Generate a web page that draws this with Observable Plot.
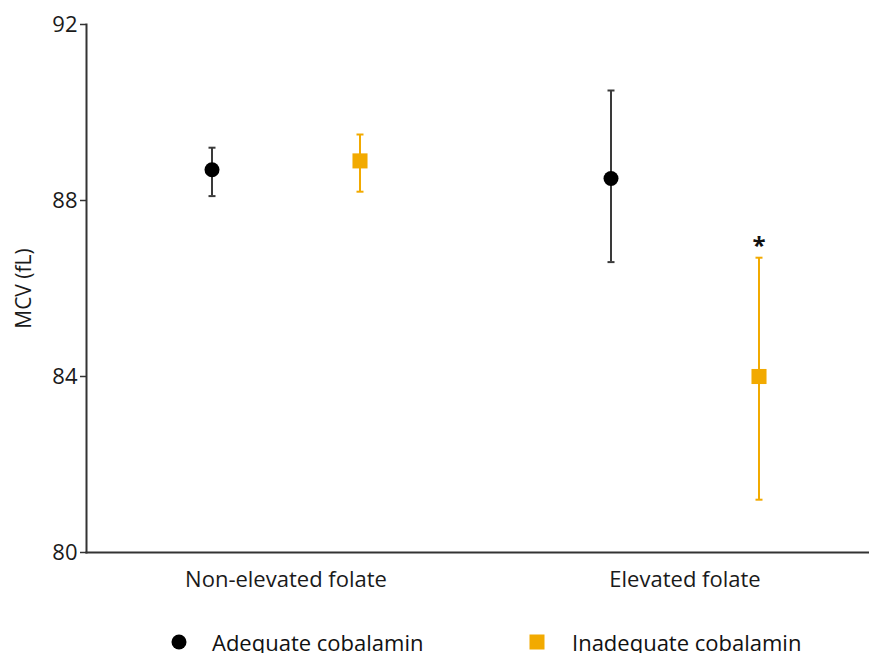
<!DOCTYPE html>
<html>
<head>
<meta charset="utf-8">
<script src="https://cdn.jsdelivr.net/npm/d3@7"></script>
<script src="https://cdn.jsdelivr.net/npm/@observablehq/plot@0.6"></script>
<style>
  html, body { margin: 0; padding: 0; background: #fff; overflow: hidden; }
  body { font-family: "Open Sans", sans-serif; position: relative; width: 869px; height: 653px; }
  #legend { position: absolute; left: 0; top: 620px; width: 869px; height: 44px; font-size: 22px; color: #111; }
  .item { position: absolute; top: 0; display: flex; align-items: center; height: 44px; }
  .item svg { display: block; }
</style>
</head>
<body>
<div id="chart"></div>
<div id="legend"></div>
<script>
// Groups along the x axis and the two cobalamin series
const groups = ["Non-elevated folate", "Elevated folate"];
const series = ["Adequate cobalamin", "Inadequate cobalamin"];

// Mean MCV (fL) with lower / upper error limits, one value per group
const adequateMean = [88.7, 88.5];
const adequateLow = [88.1, 86.6];
const adequateHigh = [89.2, 90.5];
const inadequateMean = [88.9, 84.0];
const inadequateLow = [88.2, 81.2];
const inadequateHigh = [89.5, 86.7];

// Groups where the inadequate-cobalamin mean differs significantly
const significantGroups = ["Elevated folate"];

const yTicks = [80, 84, 88, 92];

const colors = {"Adequate cobalamin": "#000000", "Inadequate cobalamin": "#f2aa00"};
const barColors = {"Adequate cobalamin": "#3a3a3a", "Inadequate cobalamin": "#f2aa00"};
const offsets = {"Adequate cobalamin": -74, "Inadequate cobalamin": 74};

const rows = [];
groups.forEach((g, i) => {
  rows.push({group: g, series: series[0], mean: adequateMean[i], low: adequateLow[i], high: adequateHigh[i]});
  rows.push({group: g, series: series[1], mean: inadequateMean[i], low: inadequateLow[i], high: inadequateHigh[i]});
});

// short horizontal line used for the error-bar caps
const capSymbol = {draw(context) { context.moveTo(-3.5, 0); context.lineTo(3.5, 0); }};

const seriesMarks = series.flatMap((s) => {
  const data = rows.filter((d) => d.series === s);
  const dx = offsets[s];
  return [
    Plot.ruleX(data, {x: "group", y1: "low", y2: "high", dx, stroke: barColors[s], strokeWidth: 2}),
    Plot.dot(data, {x: "group", y: "low", dx, symbol: capSymbol, stroke: barColors[s], strokeWidth: 2, r: 4}),
    Plot.dot(data, {x: "group", y: "high", dx, symbol: capSymbol, stroke: barColors[s], strokeWidth: 2, r: 4}),
    s === series[0]
      ? Plot.dot(data, {x: "group", y: "mean", dx, symbol: "circle", r: 7.5, fill: colors[s], stroke: "none"})
      : Plot.dot(data, {x: "group", y: "mean", dx, symbol: "square", r: 8.5, fill: colors[s], stroke: "none"})
  ];
});

const stars = rows.filter((d) => d.series === series[1] && significantGroups.includes(d.group));

const chart = Plot.plot({
  width: 869,
  height: 610,
  marginTop: 24,
  marginLeft: 86,
  marginRight: 0,
  marginBottom: 58,
  style: {fontFamily: "Open Sans, sans-serif", fontSize: "22px", color: "#1a1a1a", background: "#fff", overflow: "visible"},
  x: {type: "band", domain: groups, padding: 0, insetRight: -15, label: null},
  y: {domain: [80, 92], label: null},
  marks: [
    Plot.axisY({ticks: yTicks, tickSize: 6, tickPadding: 3, stroke: "#333", strokeWidth: 1.5, fontSize: 22, label: null}),
    Plot.axisX({tickSize: 0, tickPadding: 19, fontSize: 22, label: null}),
    Plot.text(["MCV (fL)"], {frameAnchor: "left", textAnchor: "middle", rotate: -90, dx: -62, fontSize: 21, fill: "#1a1a1a"}),
    Plot.frame({anchor: "left", stroke: "#333", strokeWidth: 2}),
    Plot.frame({anchor: "bottom", stroke: "#333", strokeWidth: 2}),
    ...seriesMarks,
    Plot.text(stars, {x: "group", y: "high", dx: offsets[series[1]], dy: -4, text: () => "*",
      fontSize: 24, fontWeight: "bold", fill: "#111", lineAnchor: "bottom"})
  ]
});
document.getElementById("chart").appendChild(chart);

// legend below the plot
const legend = document.getElementById("legend");
const legendX = {"Adequate cobalamin": 171, "Inadequate cobalamin": 529};
series.forEach((s, i) => {
  const item = document.createElement("div");
  item.className = "item";
  item.style.left = legendX[s] + "px";
  const sw = i === 0
    ? `<svg width="16" height="16"><circle cx="8" cy="8" r="7.5" fill="${colors[s]}"/></svg>`
    : `<svg width="16" height="16"><rect x="0.5" y="0.5" width="15" height="15" fill="${colors[s]}"/></svg>`;
  item.innerHTML = sw + `<span style="margin-left:${i === 0 ? 25 : 27}px">${s}</span>`;
  legend.appendChild(item);
});
</script>
</body>
</html>
